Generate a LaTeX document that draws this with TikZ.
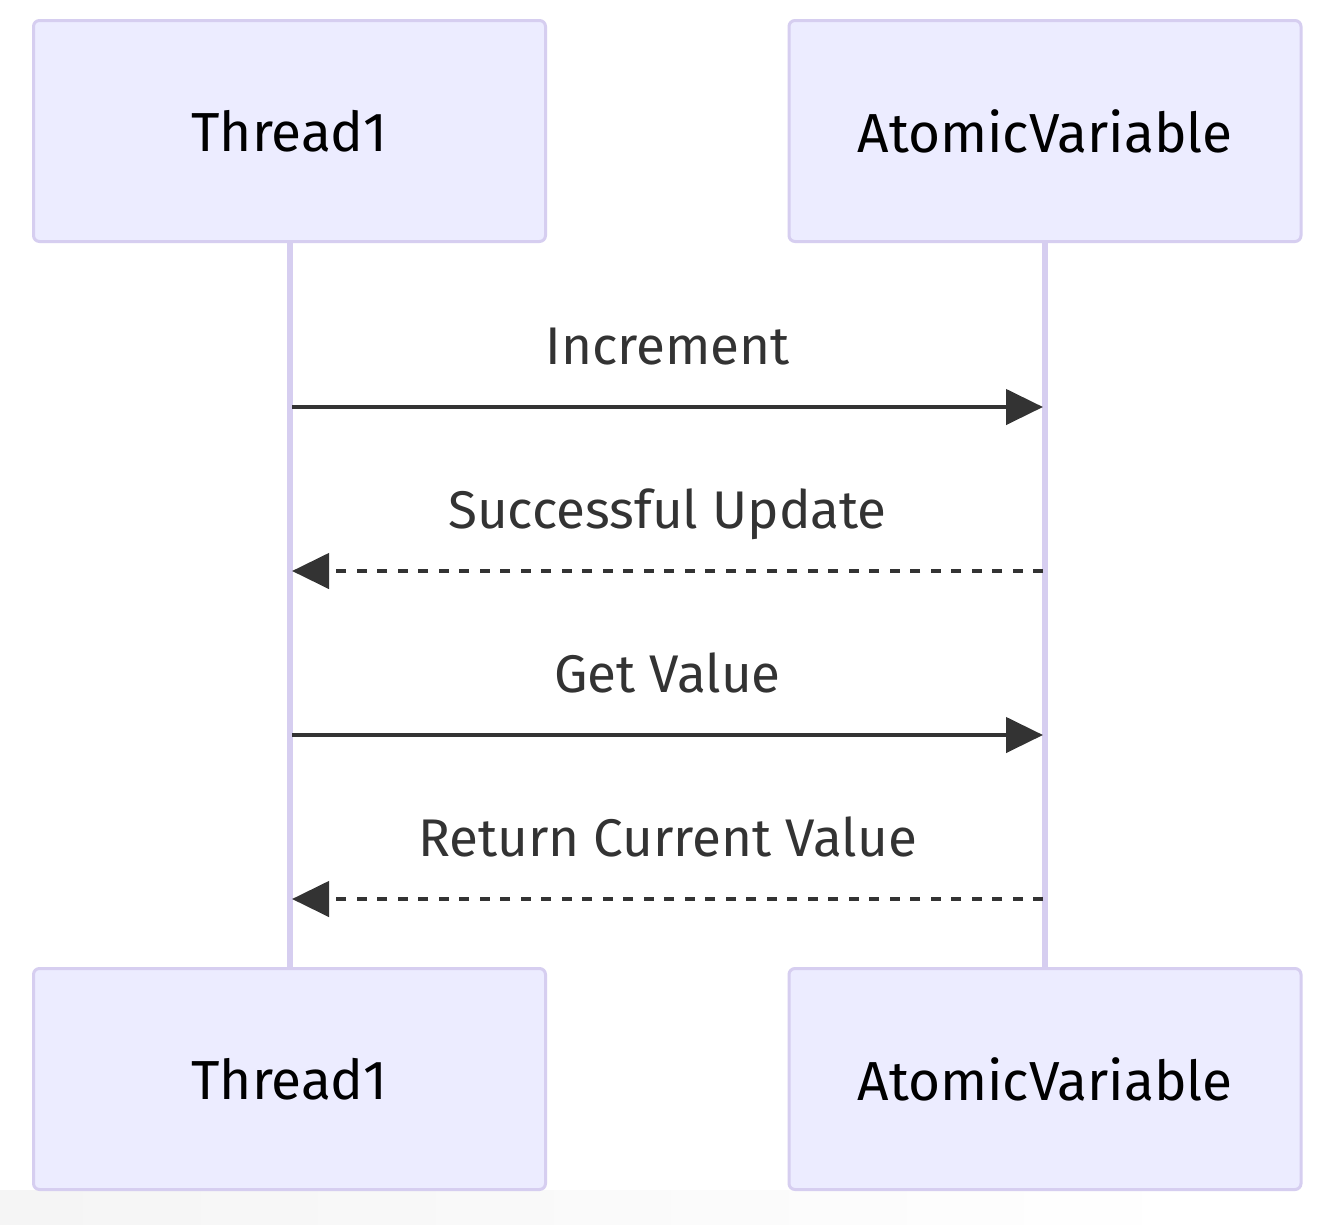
\documentclass[tikz,border=0pt]{standalone}
\usepackage{fontspec}
\setmainfont{Fira Sans}
\usetikzlibrary{arrows.meta}
\definecolor{actfill}{HTML}{ECECFF}
\definecolor{actline}{HTML}{D6CEF0}
\definecolor{msgcol}{HTML}{333333}

\begin{document}
\begin{tikzpicture}[x=1pt,y=-1pt,
  actor/.style={draw=actline,line width=3pt,fill=actfill,rounded corners=6pt,
    minimum width=512pt,minimum height=221pt,font=\fontsize{55}{60}\selectfont},
  life/.style={draw=actline,line width=6pt},
  msg/.style={draw=msgcol,line width=4.5pt,-{Triangle[length=37pt,width=35pt]}},
  reply/.style={msg,dash pattern=on 10pt off 10.5pt},
  msglabel/.style={midway,above=40pt,inner sep=0pt,text depth=0pt,text=msgcol,
    font=\fontsize{53}{60}\selectfont}]
\useasboundingbox [fill=white] (0,0) rectangle (1338,1224);
\shade [left color=black!4,right color=white] (0,1190) rectangle (1200,1224);

% actors
\node [actor] (t1top) at (289.5,131) {Thread1};
\node [actor] (avtop) at (1045,131) {AtomicVariable};
\node [actor] (t1bot) at (289.5,1079) {Thread1};
\node [actor] (avbot) at (1045,1079) {AtomicVariable};

% lifelines
\draw [life] (t1top.south) -- (t1bot.north);
\draw [life] (avtop.south) -- (avbot.north);

% message ends
\coordinate (t1a) at (292,407);  \coordinate (ava) at (1043,407);
\coordinate (t1b) at (292,571);  \coordinate (avb) at (1043,571);
\coordinate (t1c) at (292,735);  \coordinate (avc) at (1043,735);
\coordinate (t1d) at (292,899);  \coordinate (avd) at (1043,899);

\draw [msg] (t1a) -- node [msglabel] {Increment} (ava);
\draw [reply] (avb) -- node [msglabel] {Successful Update} (t1b);
\draw [msg] (t1c) -- node [msglabel] {Get Value} (avc);
\draw [reply] (avd) -- node [msglabel] {Return Current Value} (t1d);
\end{tikzpicture}
\end{document}
